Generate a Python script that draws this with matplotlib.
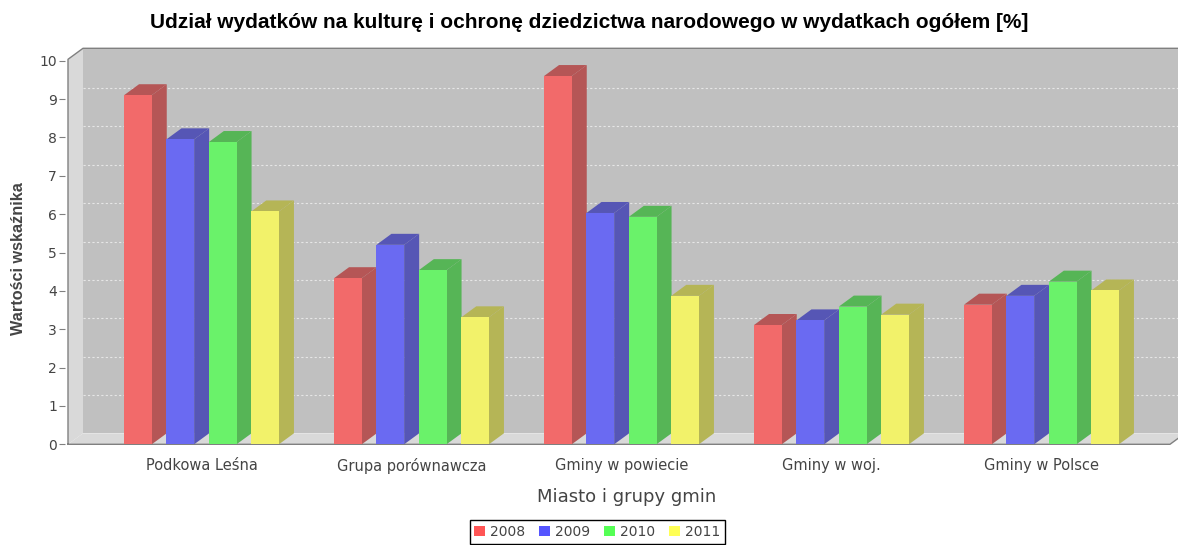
import matplotlib
matplotlib.use('Agg')
import matplotlib.pyplot as plt
from matplotlib.patches import Polygon, Rectangle, Patch

# dane
categories = ['Podkowa Leśna', 'Grupa porównawcza', 'Gminy w powiecie',
              'Gminy w woj.', 'Gminy w Polsce']
years = ['2008', '2009', '2010', '2011']
v2008 = [9.10, 4.33, 9.60, 3.11, 3.64]
v2009 = [7.95, 5.20, 6.03, 3.23, 3.87]
v2010 = [7.88, 4.54, 5.93, 3.59, 4.24]
v2011 = [6.07, 3.31, 3.87, 3.38, 4.01]
series = [v2008, v2009, v2010, v2011]
yticks = list(range(0, 11))

legend_col = ['#ff5555', '#5555ff', '#55ff55', '#ffff55']
front_col = ['#f26a6a', '#6a6af2', '#6af26a', '#f2f26a']
side_col = ['#b55656', '#5656b5', '#56b556', '#b5b556']

# geometria (piksele)
W, H = 1178, 545
L, R, T, B = 68, 1170, 59.3, 444.3
PX_CAT, CX0 = 210.0, 201.5
PX_Y = 38.36
DX_PX, DY_PX = 15, 11
BAR_PX, PITCH_PX = 27.7, 42.4

fig = plt.figure(figsize=(W / 100, H / 100), dpi=100, facecolor='white')
ax = fig.add_axes([L / W, 1 - B / H, (R - L) / W, (B - T) / H])
x0, x1 = (L - CX0) / PX_CAT, (R - CX0) / PX_CAT
ymax = (B - T) / PX_Y
ax.set_xlim(x0, x1)
ax.set_ylim(0, ymax)
ax.patch.set_visible(False)
dx, dy = DX_PX / PX_CAT, DY_PX / PX_Y
bw, pitch = BAR_PX / PX_CAT, PITCH_PX / PX_CAT

wall = '#c0c0c0'
side_wall = '#d9d9d9'
edge = '#808080'

# tylna sciana, lewa sciana, podloga
ax.add_patch(Rectangle((x0 + dx, dy), (x1 - x0), ymax, facecolor=wall,
                       edgecolor='none', zorder=0, clip_on=False))
ax.add_patch(Polygon([(x0, 0), (x0 + dx, dy), (x0 + dx, ymax + dy), (x0, ymax)],
                     facecolor=side_wall, edgecolor='none', zorder=0, clip_on=False))
ax.add_patch(Polygon([(x0, 0), (x0 + dx, dy), (x1 + dx, dy), (x1, 0)],
                     facecolor=side_wall, edgecolor='none', zorder=0, clip_on=False))

for v in yticks[1:-1]:
    ax.plot([x0 + dx, x1 + dx], [v + dy, v + dy], color='#e6e6e6', lw=0.8,
            ls=(0, (2, 2)), zorder=1, clip_on=False)

# obrys
ax.plot([x0, x0, x0 + dx, x1 + dx, x1 + dx, x1, x0],
        [0, ymax, ymax + dy, ymax + dy, dy, 0, 0],
        color=edge, lw=1, zorder=1.5, clip_on=False)

# slupki 3D
z = 2
for i in range(len(categories)):
    for j, s in enumerate(series):
        v = s[i]
        bx = i + (j - 1.5) * pitch - bw / 2
        bx1 = bx + bw
        ax.add_patch(Polygon([(bx1, 0), (bx1 + dx, dy), (bx1 + dx, v + dy), (bx1, v)],
                             facecolor=side_col[j], edgecolor='none', zorder=z, clip_on=False))
        ax.add_patch(Polygon([(bx, v), (bx + dx, v + dy), (bx1 + dx, v + dy), (bx1, v)],
                             facecolor=side_col[j], edgecolor='none', zorder=z, clip_on=False))
        ax.add_patch(Rectangle((bx, 0), bw, v, facecolor=front_col[j],
                               edgecolor='none', zorder=z + 0.5, clip_on=False))
        z += 1

for s in ax.spines.values():
    s.set_visible(False)
ax.spines['left'].set_position(('outward', 2))
ax.set_yticks(yticks)
ax.tick_params(axis='y', length=4, color=edge, direction='out', pad=2,
               labelsize=10, labelcolor='#444444')
ax.set_xticks(range(len(categories)))
ax.set_xticklabels(categories)
ax.tick_params(axis='x', length=0, pad=10, labelsize=10.5, labelcolor='#444444')

fig.text(0.5, 1 - 22 / H,
         'Udział wydatków na kulturę i ochronę dziedzictwa narodowego w wydatkach ogółem [%]',
         ha='center', va='center', fontsize=15, fontweight='bold',
         family='Liberation Sans', color='black')
fig.text(627 / W, 1 - 497 / H, 'Miasto i grupy gmin', ha='center', va='center',
         fontsize=13, color='#444444')
fig.text(19 / W, 1 - 259 / H, 'Wartości wskaźnika', ha='center', va='center',
         rotation=90, fontsize=11.7, fontweight='bold', family='Liberation Sans',
         color='#444444')

handles = [Patch(facecolor=c, edgecolor='none') for c in legend_col]
leg = fig.legend(handles, years, loc='center', ncol=4,
                 bbox_to_anchor=(597.5 / W, 1 - 532 / H), fontsize=10,
                 handlelength=0.75, handleheight=0.75, handletextpad=0.4,
                 columnspacing=1.0, borderpad=0.35, frameon=True, fancybox=False,
                 framealpha=1)
leg.get_frame().set_edgecolor('black')
leg.get_frame().set_linewidth(1)
for t in leg.get_texts():
    t.set_color('#444444')

fig.savefig('out.png', dpi=100, facecolor='white')
